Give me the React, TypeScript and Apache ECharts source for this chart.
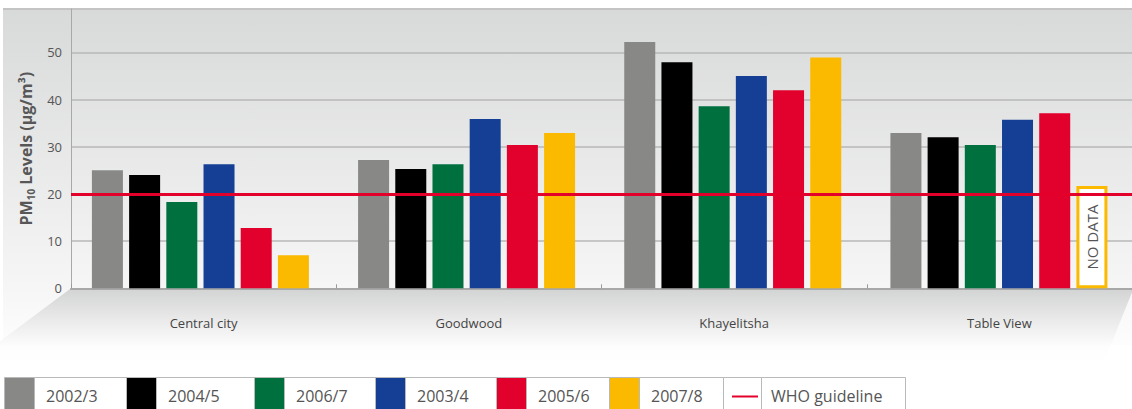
import React, { useEffect, useRef } from "react";
import * as echarts from "echarts";

// Monitoring sites along the category axis
const categories = ["Central city", "Goodwood", "Khayelitsha", "Table View"];

// Monitoring periods, in the order the bars are drawn within each site
const periods = ["2002/3", "2004/5", "2006/7", "2003/4", "2005/6", "2007/8"];
const periodColors = ["#888886", "#000000", "#00703f", "#143f95", "#e2002d", "#fbb900"];

// Annual mean PM10 (µg/m³) per site, one array per period
const pm2002_3 = [25.0, 27.2, 52.2, 32.9];
const pm2004_5 = [24.0, 25.3, 47.9, 32.0];
const pm2006_7 = [18.3, 26.3, 38.6, 30.4];
const pm2003_4 = [26.3, 35.9, 45.0, 35.7];
const pm2005_6 = [12.8, 30.4, 42.0, 37.1];
const pm2007_8: (number | null)[] = [7.0, 32.9, 48.9, null];

// Height of the outlined placeholder drawn where a period has no measurement
const noDataBoxValue = 21.7;
const noDataText = "NO DATA";

// WHO annual PM10 guideline
const whoGuideline = 20;
const whoLabel = "WHO guideline";

// Value axis
const yMin = 0;
const yMax = 59.2;
const yInterval = 10;

const seriesValues = [pm2002_3, pm2004_5, pm2006_7, pm2003_4, pm2005_6, pm2007_8];

// Layout / style constants
const FONT = '"Open Sans", "Noto Sans", sans-serif';
const GRID_TOP = 9;
const GRID_BOTTOM = 120.7;
const LEGEND_TOP = 377;
const LEGEND_LEFT = 4;
const SWATCH_W = 30;
const LABEL_CELL_W = [92, 98, 91, 91, 83, 84];
const LINE_CELL_W = 38;
const WHO_CELL_W = 144;
const CELL_BORDER = "#b9b9b9";

function buildLegend(): any[] {
  const els: any[] = [];
  let x = LEGEND_LEFT;
  const h = 40;
  periods.forEach((p, i) => {
    els.push({
      type: "rect",
      z: 20,
      shape: { x: x + 0.5, y: LEGEND_TOP + 0.5, width: SWATCH_W, height: h },
      style: { fill: periodColors[i], stroke: CELL_BORDER, lineWidth: 1 },
    });
    x += SWATCH_W;
    els.push({
      type: "rect",
      z: 20,
      shape: { x: x + 0.5, y: LEGEND_TOP + 0.5, width: LABEL_CELL_W[i], height: h },
      style: { fill: "#ffffff", stroke: CELL_BORDER, lineWidth: 1 },
    });
    els.push({
      type: "text",
      z: 21,
      style: {
        text: p,
        x: x + 12,
        y: LEGEND_TOP + 19,
        fontSize: 16,
        fontFamily: FONT,
        fill: "#555555",
        verticalAlign: "middle",
        align: "left",
      },
    });
    x += LABEL_CELL_W[i];
  });
  // guideline entry
  els.push({
    type: "rect",
    z: 20,
    shape: { x: x + 0.5, y: LEGEND_TOP + 0.5, width: LINE_CELL_W, height: h },
    style: { fill: "#ffffff", stroke: CELL_BORDER, lineWidth: 1 },
  });
  els.push({
    type: "line",
    z: 21,
    shape: { x1: x + 9, y1: LEGEND_TOP + 19.5, x2: x + 35, y2: LEGEND_TOP + 19.5 },
    style: { stroke: "#e3002b", lineWidth: 2 },
  });
  x += LINE_CELL_W;
  els.push({
    type: "rect",
    z: 20,
    shape: { x: x + 0.5, y: LEGEND_TOP + 0.5, width: WHO_CELL_W, height: h },
    style: { fill: "#ffffff", stroke: CELL_BORDER, lineWidth: 1 },
  });
  els.push({
    type: "text",
    z: 21,
    style: {
      text: whoLabel,
      x: x + 10,
      y: LEGEND_TOP + 19,
      fontSize: 16,
      fontFamily: FONT,
      fill: "#555555",
      verticalAlign: "middle",
      align: "left",
    },
  });
  return els;
}

function buildBackdrop(): any[] {
  const axisY = 409 - GRID_BOTTOM;
  return [
    {
      type: "rect",
      z: -20,
      silent: true,
      shape: { x: 3, y: GRID_TOP, width: 1129, height: 345 - GRID_TOP },
      style: {
        fill: new echarts.graphic.LinearGradient(0, 0, 0, 1, [
          { offset: 0, color: "#d8d9d9" },
          { offset: (axisY - GRID_TOP) / (345 - GRID_TOP), color: "#f6f6f6" },
          { offset: 1, color: "#fdfdfd" },
        ]),
      },
    },
    {
      type: "polygon",
      z: -19,
      silent: true,
      shape: {
        points: [
          [71, axisY],
          [1132, axisY],
          [1132, axisY + 4],
          [1104, 362],
          [0, 362],
          [0, axisY + 53],
        ],
      },
      style: {
        fill: new echarts.graphic.LinearGradient(0, 0, 0, 1, [
          { offset: 0, color: "#d2d3d3" },
          { offset: 0.45, color: "#ebebeb" },
          { offset: 0.8, color: "#fdfdfd" },
          { offset: 1, color: "#ffffff" },
        ]),
      },
    },
    {
      type: "line",
      z: -18,
      silent: true,
      shape: { x1: 3, y1: GRID_TOP, x2: 1132, y2: GRID_TOP },
      style: { stroke: "#c4c4c4", lineWidth: 2 },
    },
  ];
}

export default function App() {
  const ref = useRef<HTMLDivElement>(null);

  useEffect(() => {
    if (!ref.current) return;
    const chart = echarts.init(ref.current, undefined, { renderer: "svg" });

    const barSeries = periods.map((name, i) => ({
      name,
      type: "bar",
      xAxisIndex: 0,
      yAxisIndex: 0,
      barWidth: 31,
      barGap: "20%",
      itemStyle: { color: periodColors[i] },
      emphasis: { disabled: true },
      z: 3,
      data: seriesValues[i].map((v) =>
        v == null
          ? {
              value: noDataBoxValue,
              itemStyle: { color: "#ffffff", borderColor: periodColors[i], borderWidth: 3 },
              label: {
                show: true,
                position: "inside",
                rotate: 90,
                formatter: noDataText,
                fontSize: 15,
                fontFamily: FONT,
                color: "#555555",
              },
            }
          : v
      ),
    }));

    const option: any = {
      animation: false,
      backgroundColor: "#ffffff",
      textStyle: { fontFamily: FONT },
      grid: [
        // bars
        { left: 67.33, width: 1065.3, top: GRID_TOP, bottom: GRID_BOTTOM },
        // axes, split lines and guideline
        { left: 71, width: 1067, top: GRID_TOP, bottom: GRID_BOTTOM },
      ],
      xAxis: [
        { type: "category", gridIndex: 0, data: categories, show: false },
        {
          type: "category",
          gridIndex: 1,
          data: categories,
          axisLine: { lineStyle: { color: "#a8a8a8", width: 2 } },
          axisTick: { show: true, inside: true, length: 4, lineStyle: { color: "#9a9a9a" } },
          axisLabel: { color: "#444444", fontSize: 13, margin: 28, fontFamily: FONT },
        },
      ],
      yAxis: [
        { type: "value", gridIndex: 0, min: yMin, max: yMax, interval: yInterval, show: false },
        {
          type: "value",
          gridIndex: 1,
          min: yMin,
          max: yMax,
          interval: yInterval,
          name: "PM{sub|10} Levels (μg/m³)",
          nameLocation: "middle",
          nameGap: 30,
          nameTextStyle: {
            color: "#575757",
            fontSize: 16,
            fontWeight: "bold",
            fontFamily: FONT,
            lineHeight: 20,
            rich: {
              sub: {
                fontSize: 10,
                fontWeight: "bold",
                fontFamily: FONT,
                color: "#575757",
                lineHeight: 10,
                verticalAlign: "bottom",
              },
            },
          },
          axisLine: { show: true, lineStyle: { color: "#a8a8a8", width: 1 } },
          axisTick: { show: false },
          axisLabel: {
            color: "#555555",
            fontSize: 13,
            margin: 9,
            fontFamily: FONT,
            showMaxLabel: false,
          },
          splitLine: { show: true, showMaxLine: false, lineStyle: { color: "#b7b7b7", width: 1.5 } },
        },
      ],
      series: [
        ...barSeries,
        {
          name: whoLabel,
          type: "line",
          xAxisIndex: 1,
          yAxisIndex: 1,
          data: categories.map(() => null),
          showSymbol: false,
          z: 6,
          markLine: {
            silent: true,
            symbol: "none",
            label: { show: false },
            lineStyle: { color: "#e3002b", width: 3, type: "solid" },
            data: [{ yAxis: whoGuideline }],
          },
        },
      ],
      graphic: { elements: [...buildBackdrop(), ...buildLegend()] },
    };

    chart.setOption(option);
    return () => chart.dispose();
  }, []);

  return (
    <div
      ref={ref}
      style={{ position: "fixed", left: 0, top: 0, width: 1132, height: 409, background: "#fff" }}
    />
  );
}
